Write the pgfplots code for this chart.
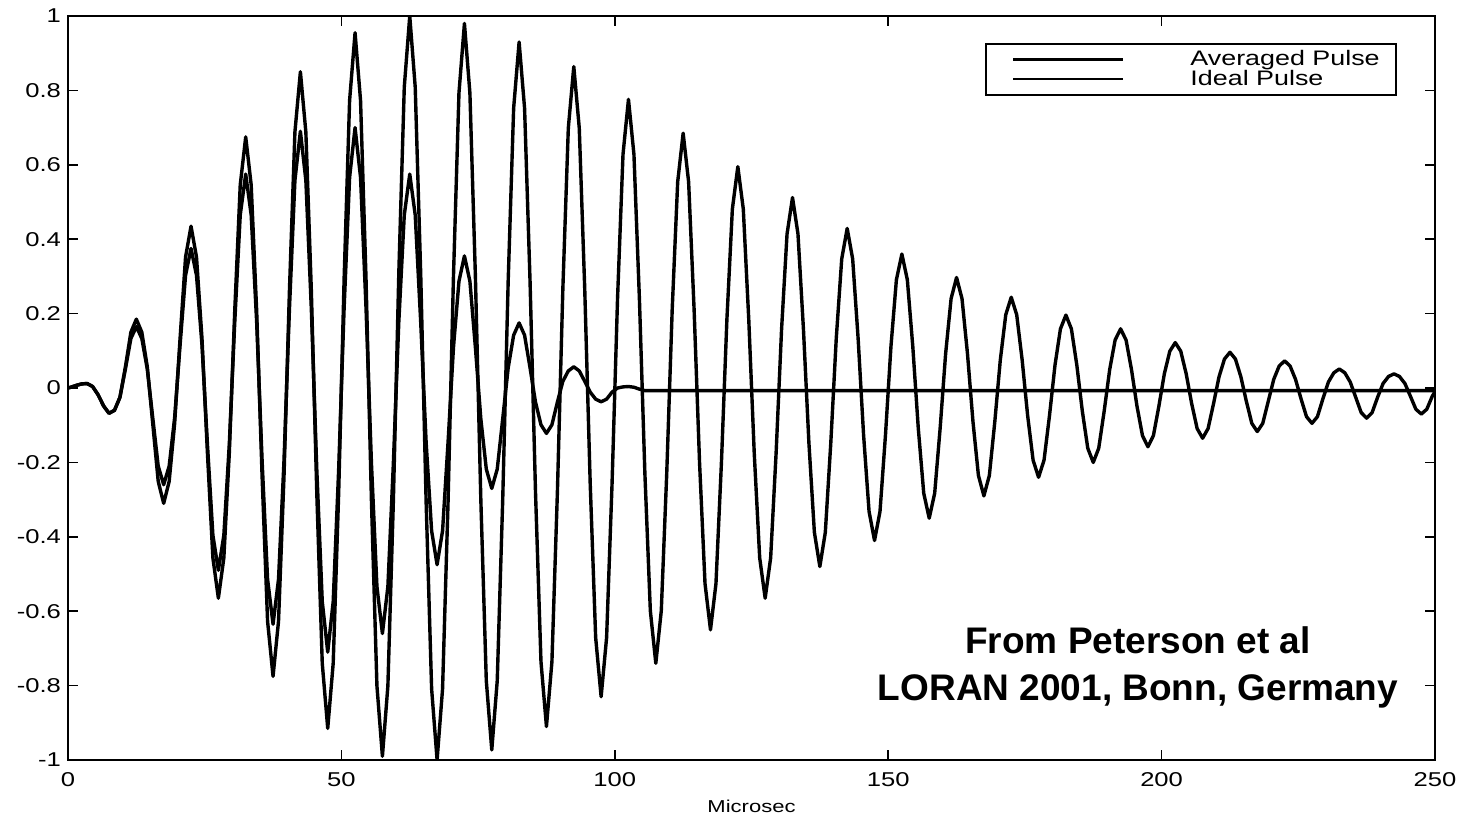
\documentclass[border=0pt]{standalone}
\usepackage{fontspec}
\setmainfont{Liberation Sans}
\newfontfamily\widefont[FakeStretch=1.28]{Liberation Sans}
\usepackage{pgfplots}
\pgfplotsset{compat=1.18}

\begin{document}
\begin{tikzpicture}
\begin{axis}[
  scale only axis, width=683.5pt, height=372pt,
  xmin=0, xmax=250, ymin=-1, ymax=1,
  xtick={0,50,100,150,200,250},
  ytick={-1,-0.8,-0.6,-0.4,-0.2,0,0.2,0.4,0.6,0.8,1},
  tick align=inside, major tick length=5pt,
  every tick/.style={black, line width=0.8pt},
  axis line style={line width=1pt},
  /pgf/number format/assume math mode=true,
  tick label style={font=\widefont\fontsize{10}{12}\selectfont},
  xticklabel style={yshift=-2.5pt},
  yticklabel style={/pgf/number format/.cd, fixed, precision=1},
  xlabel={Microsec},
  xlabel style={font=\widefont\fontsize{8.6}{12}\selectfont, yshift=0pt},
  legend cell align=left,
  legend image code/.code={\draw[#1, line width=1.1pt] (7pt,0pt) -- (62pt,0pt); \path (0pt,0pt);},
  legend style={at={(0.972,0.964)}, anchor=north east, draw=black, line width=1pt,
    font=\widefont\fontsize{10.5}{11}\selectfont, inner xsep=6pt, inner ysep=3pt,
    nodes={inner ysep=0.3pt}, row sep=0pt,
    /tikz/every odd column/.append style={column sep=31pt}},
]
% averaged pulse
\addplot[black, line width=1.7pt, line join=round] coordinates {
(0,0) (0.5,0.002) (1.5,0.007) (2.5,0.011) (3.5,0.012) (4.5,0.004) (5.5,-0.018) (6.5,-0.048) (7.5,-0.068) (8.5,-0.060) (9.5,-0.025)
(10.5,0.051) (11.5,0.133) (12.5,0.165) (13.5,0.133) (14.5,0.051) (15.5,-0.080) (16.5,-0.210) (17.5,-0.260) (18.5,-0.210) (19.5,-0.080)
(20.5,0.116) (21.5,0.303) (22.5,0.375) (23.5,0.303) (24.5,0.116) (25.5,-0.151) (26.5,-0.396) (27.5,-0.490) (28.5,-0.396) (29.5,-0.151)
(30.5,0.178) (31.5,0.465) (32.5,0.575) (33.5,0.465) (34.5,0.178) (35.5,-0.196) (36.5,-0.514) (37.5,-0.635) (38.5,-0.514) (39.5,-0.196)
(40.5,0.213) (41.5,0.558) (42.5,0.690) (43.5,0.558) (44.5,0.213) (45.5,-0.219) (46.5,-0.574) (47.5,-0.710) (48.5,-0.574) (49.5,-0.219)
(50.5,0.216) (51.5,0.566) (52.5,0.700) (53.5,0.566) (54.5,0.216) (55.5,-0.204) (56.5,-0.534) (57.5,-0.660) (58.5,-0.534) (59.5,-0.204)
(60.5,0.178) (61.5,0.465) (62.5,0.575) (63.5,0.465) (64.5,0.178) (65.5,-0.147) (66.5,-0.384) (67.5,-0.475) (68.5,-0.384) (69.5,-0.147)
(70.5,0.110) (71.5,0.287) (72.5,0.355) (73.5,0.287) (74.5,0.110) (75.5,-0.083) (76.5,-0.218) (77.5,-0.270) (78.5,-0.218) (79.5,-0.083)
(80.5,0.054) (81.5,0.142) (82.5,0.175) (83.5,0.142) (84.5,0.054) (85.5,-0.038) (86.5,-0.099) (87.5,-0.122) (88.5,-0.099) (89.5,-0.038)
(90.5,0.018) (91.5,0.046) (92.5,0.057) (93.5,0.046) (94.5,0.018) (95.5,-0.011) (96.5,-0.030) (97.5,-0.037) (98.5,-0.030) (99.5,-0.011)
(100.5,0.000) (101.5,0.003) (102.5,0.004) (103.5,0.002) (104.5,-0.003) (105.5,-0.007) (250,-0.007)
};
\addlegendentry{Averaged Pulse}
% ideal pulse
\addplot[black, line width=1.7pt, line join=round] coordinates {
(0,0) (0.5,0.002) (1.5,0.007) (2.5,0.011) (3.5,0.012) (4.5,0.004) (5.5,-0.018) (6.5,-0.048) (7.5,-0.068) (8.5,-0.060) (9.5,-0.025)
(10.5,0.057) (11.5,0.150) (12.5,0.185) (13.5,0.150) (14.5,0.057) (15.5,-0.096) (16.5,-0.251) (17.5,-0.310) (18.5,-0.251) (19.5,-0.096)
(20.5,0.134) (21.5,0.352) (22.5,0.435) (23.5,0.352) (24.5,0.134) (25.5,-0.175) (26.5,-0.457) (27.5,-0.565) (28.5,-0.457) (29.5,-0.175)
(30.5,0.209) (31.5,0.546) (32.5,0.675) (33.5,0.546) (34.5,0.209) (35.5,-0.239) (36.5,-0.627) (37.5,-0.775) (38.5,-0.627) (39.5,-0.239)
(40.5,0.263) (41.5,0.688) (42.5,0.850) (43.5,0.688) (44.5,0.263) (45.5,-0.283) (46.5,-0.740) (47.5,-0.915) (48.5,-0.740) (49.5,-0.283)
(50.5,0.295) (51.5,0.773) (52.5,0.955) (53.5,0.773) (54.5,0.295) (55.5,-0.306) (56.5,-0.801) (57.5,-0.990) (58.5,-0.801) (59.5,-0.306)
(60.5,0.309) (61.5,0.809) (62.5,1.000) (63.5,0.809) (64.5,0.309) (65.5,-0.309) (66.5,-0.809) (67.5,-1.000) (68.5,-0.809) (69.5,-0.309)
(70.5,0.303) (71.5,0.793) (72.5,0.980) (73.5,0.793) (74.5,0.303) (75.5,-0.301) (76.5,-0.787) (77.5,-0.973) (78.5,-0.787) (79.5,-0.301)
(80.5,0.287) (81.5,0.752) (82.5,0.930) (83.5,0.752) (84.5,0.287) (85.5,-0.281) (86.5,-0.736) (87.5,-0.910) (88.5,-0.736) (89.5,-0.281)
(90.5,0.267) (91.5,0.699) (92.5,0.864) (93.5,0.699) (94.5,0.267) (95.5,-0.256) (96.5,-0.671) (97.5,-0.830) (98.5,-0.671) (99.5,-0.256)
(100.5,0.240) (101.5,0.628) (102.5,0.776) (103.5,0.628) (104.5,0.240) (105.5,-0.229) (106.5,-0.599) (107.5,-0.740) (108.5,-0.599) (109.5,-0.229)
(110.5,0.212) (111.5,0.554) (112.5,0.685) (113.5,0.554) (114.5,0.212) (115.5,-0.201) (116.5,-0.526) (117.5,-0.650) (118.5,-0.526) (119.5,-0.201)
(120.5,0.184) (121.5,0.481) (122.5,0.595) (123.5,0.481) (124.5,0.184) (125.5,-0.175) (126.5,-0.457) (127.5,-0.565) (128.5,-0.457) (129.5,-0.175)
(130.5,0.158) (131.5,0.414) (132.5,0.512) (133.5,0.414) (134.5,0.158) (135.5,-0.148) (136.5,-0.388) (137.5,-0.480) (138.5,-0.388) (139.5,-0.148)
(140.5,0.133) (141.5,0.347) (142.5,0.429) (143.5,0.347) (144.5,0.133) (145.5,-0.127) (146.5,-0.332) (147.5,-0.410) (148.5,-0.332) (149.5,-0.127)
(150.5,0.111) (151.5,0.291) (152.5,0.360) (153.5,0.291) (154.5,0.111) (155.5,-0.108) (156.5,-0.283) (157.5,-0.350) (158.5,-0.283) (159.5,-0.108)
(160.5,0.092) (161.5,0.240) (162.5,0.297) (163.5,0.240) (164.5,0.092) (165.5,-0.090) (166.5,-0.235) (167.5,-0.290) (168.5,-0.235) (169.5,-0.090)
(170.5,0.075) (171.5,0.197) (172.5,0.244) (173.5,0.197) (174.5,0.075) (175.5,-0.074) (176.5,-0.194) (177.5,-0.240) (178.5,-0.194) (179.5,-0.074)
(180.5,0.061) (181.5,0.159) (182.5,0.196) (183.5,0.159) (184.5,0.061) (185.5,-0.062) (186.5,-0.162) (187.5,-0.200) (188.5,-0.162) (189.5,-0.062)
(190.5,0.049) (191.5,0.129) (192.5,0.159) (193.5,0.129) (194.5,0.049) (195.5,-0.049) (196.5,-0.128) (197.5,-0.158) (198.5,-0.128) (199.5,-0.049)
(200.5,0.038) (201.5,0.099) (202.5,0.122) (203.5,0.099) (204.5,0.038) (205.5,-0.042) (206.5,-0.109) (207.5,-0.135) (208.5,-0.109) (209.5,-0.042)
(210.5,0.030) (211.5,0.078) (212.5,0.096) (213.5,0.078) (214.5,0.030) (215.5,-0.036) (216.5,-0.095) (217.5,-0.117) (218.5,-0.095) (219.5,-0.036)
(220.5,0.023) (221.5,0.059) (222.5,0.073) (223.5,0.059) (224.5,0.023) (225.5,-0.029) (226.5,-0.077) (227.5,-0.095) (228.5,-0.077) (229.5,-0.029)
(230.5,0.016) (231.5,0.041) (232.5,0.051) (233.5,0.041) (234.5,0.016) (235.5,-0.025) (236.5,-0.066) (237.5,-0.081) (238.5,-0.066) (239.5,-0.025)
(240.5,0.012) (241.5,0.031) (242.5,0.038) (243.5,0.031) (244.5,0.012) (245.5,-0.022) (246.5,-0.057) (247.5,-0.070) (248.5,-0.057) (249.5,-0.022) (250,-0.010)
};
\addlegendentry{Ideal Pulse}
\node[font=\fontsize{18.5}{23.5}\selectfont\bfseries, align=center] at (axis cs:195.7,-0.75)
  {From Peterson et al\\LORAN 2001, Bonn, Germany};
\coordinate (bl) at (rel axis cs:0,0);
\coordinate (tr) at (rel axis cs:1,1);
\end{axis}
\pgfresetboundingbox
\path ([shift={(-34pt,-30pt)}]bl) rectangle ([shift={(16.5pt,8pt)}]tr);
\end{tikzpicture}
\end{document}
